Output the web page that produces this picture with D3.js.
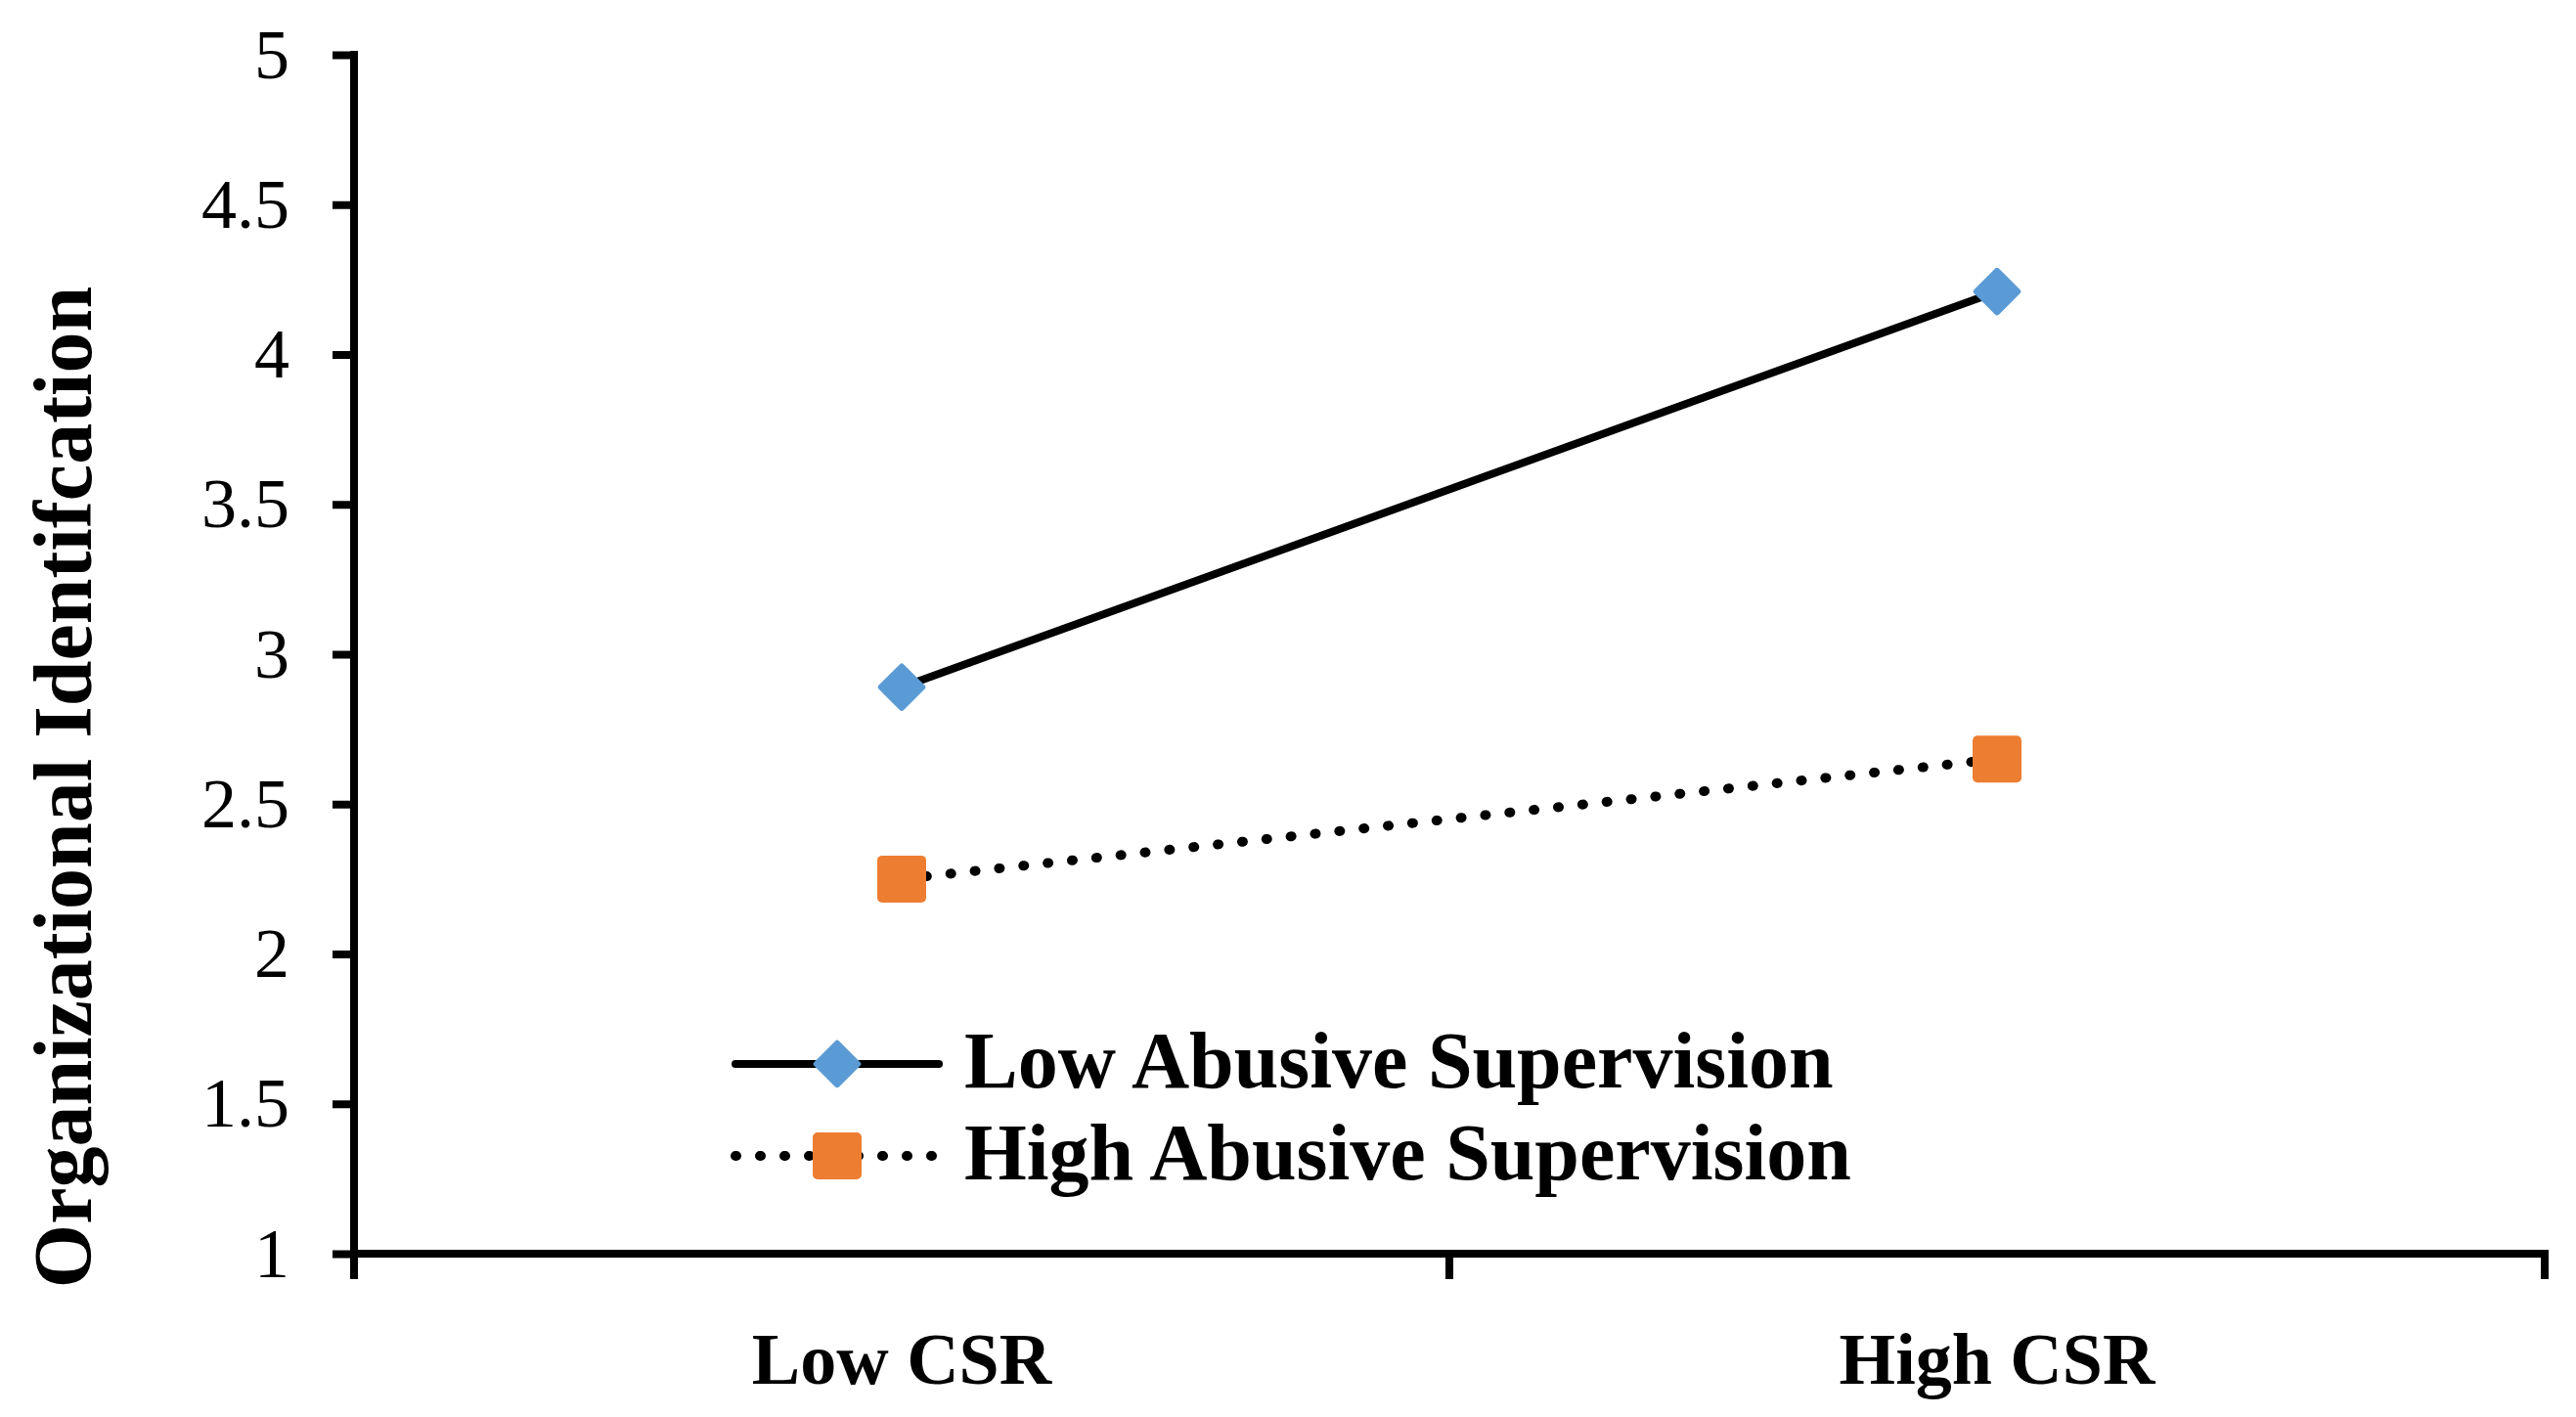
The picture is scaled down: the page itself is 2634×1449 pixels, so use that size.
<!DOCTYPE html>
<html>
<head>
<meta charset="utf-8">
<script src="https://cdn.jsdelivr.net/npm/d3@7"></script>
<style>
  body { margin: 0; background: #fff; }
  text { font-family: "Liberation Serif", "Times New Roman", serif; }
</style>
</head>
<body>
<script>
const width = 2634, height = 1449;

// data
const categories = ["Low CSR", "High CSR"];
const seriesNames = ["Low Abusive Supervision", "High Abusive Supervision"];
const lowAbusive = [2.89, 4.21];
const highAbusive = [2.25, 2.65];
const yTicks = [1, 1.5, 2, 2.5, 3, 3.5, 4, 4.5, 5];
const yTitle = "Organizational Identifcation";

const series = [
  { name: seriesNames[0], values: lowAbusive, color: "#5B9BD5", marker: "diamond", dash: null },
  { name: seriesNames[1], values: highAbusive, color: "#ED7D31", marker: "square", dash: "1,24" }
];

const margin = ({ top: 56, right: 32, bottom: 167, left: 362 });

const x = d3.scaleBand()
  .domain(categories)
  .range([margin.left, width - margin.right])
  .paddingInner(0).paddingOuter(0);

const y = d3.scaleLinear()
  .domain([1, 5])
  .range([height - margin.bottom, margin.top]);

const cx = d => x(d) + x.bandwidth() / 2;

const svg = d3.select("body")
  .append("svg")
  .attr("width", width)
  .attr("height", height)
  .attr("viewBox", [0, 0, width, height]);

svg.append("rect").attr("width", width).attr("height", height).attr("fill", "#fff");

// y axis
const yAxis = g => g
  .attr("transform", `translate(${margin.left},0)`)
  .call(d3.axisLeft(y).tickValues(yTicks).tickFormat(d3.format("")).tickSize(22).tickPadding(44).tickSizeOuter(0))
  .call(g => g.select(".domain").remove())
  .call(g => g.selectAll(".tick line").attr("stroke", "#000").attr("stroke-width", 8))
  .call(g => g.selectAll(".tick text")
    .attr("fill", "#000")
    .style("font-size", "72px"));

svg.append("g").call(yAxis);

// x axis (labels centered, ticks between categories)
const y0 = y(1);
const xAxis = g => g
  .attr("transform", `translate(0,${y0})`)
  .call(d3.axisBottom(x).tickSize(0).tickPadding(80).tickSizeOuter(0))
  .call(g => g.select(".domain").remove())
  .call(g => g.selectAll(".tick text")
    .attr("fill", "#000")
    .style("font-size", "74px")
    .style("font-weight", "bold"));

svg.append("g").call(xAxis);

const edges = categories.map(c => x(c)).concat([x.range()[1]]);
svg.append("g")
  .selectAll("line")
  .data(edges)
  .join("line")
  .attr("x1", d => d).attr("x2", d => d)
  .attr("y1", y0).attr("y2", y0 + 26)
  .attr("stroke", "#000").attr("stroke-width", 8);

// axis lines
svg.append("line")
  .attr("x1", margin.left).attr("x2", margin.left)
  .attr("y1", y(5) - 4).attr("y2", y0 + 26)
  .attr("stroke", "#000").attr("stroke-width", 8);
svg.append("line")
  .attr("x1", margin.left - 4).attr("x2", x.range()[1] + 4)
  .attr("y1", y0).attr("y2", y0)
  .attr("stroke", "#000").attr("stroke-width", 8);

// y title
svg.append("text")
  .attr("transform", `translate(93,805) rotate(-90)`)
  .attr("text-anchor", "middle")
  .style("font-size", "84px")
  .style("font-weight", "bold")
  .attr("fill", "#000")
  .text(yTitle);

// lines
const line = d3.line()
  .x((d, i) => cx(categories[i]))
  .y(d => y(d));

const drawMarker = (g, s, px, py) => {
  if (s.marker === "diamond") {
    g.append("rect")
      .attr("x", -18).attr("y", -18)
      .attr("width", 36).attr("height", 36)
      .attr("rx", 3)
      .attr("transform", `translate(${px},${py}) rotate(45)`)
      .attr("fill", s.color);
  } else {
    g.append("rect")
      .attr("x", px - 25).attr("y", py - 24)
      .attr("width", 50).attr("height", 48)
      .attr("rx", 5)
      .attr("fill", s.color);
  }
};

series.forEach(s => {
  svg.append("path")
    .datum(s.values)
    .attr("d", line)
    .attr("fill", "none")
    .attr("stroke", "#000")
    .attr("stroke-width", s.dash ? 10 : 8)
    .attr("stroke-linecap", "round")
    .attr("stroke-dasharray", s.dash);
  const mg = svg.append("g");
  s.values.forEach((v, i) => drawMarker(mg, s, cx(categories[i]), y(v)));
});

// legend
const legend = svg.append("g");
series.forEach((s, i) => {
  const ly = 1088 + i * 94;
  legend.append("line")
    .attr("x1", 752).attr("x2", 960)
    .attr("y1", ly).attr("y2", ly)
    .attr("stroke", "#000")
    .attr("stroke-width", s.dash ? 10 : 8)
    .attr("stroke-linecap", "round")
    .attr("stroke-dasharray", s.dash);
  drawMarker(legend, s, 856, ly);
  legend.append("text")
    .attr("x", 986).attr("y", ly + 24)
    .style("font-size", "82px")
    .style("font-weight", "bold")
    .attr("fill", "#000")
    .text(s.name);
});
</script>
</body>
</html>
